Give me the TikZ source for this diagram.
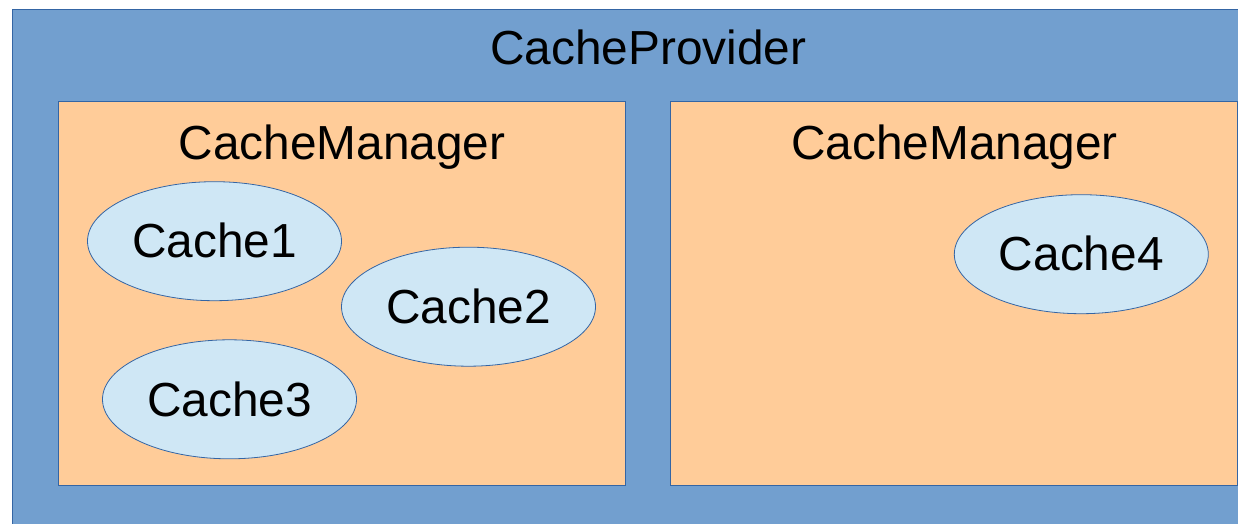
\documentclass[tikz,border=0pt]{standalone}
\usepackage{fontspec}
\setmainfont{Liberation Sans}
\usetikzlibrary{shapes.geometric,calc}
\definecolor{provblue}{HTML}{729FCF}
\definecolor{edgeblue}{HTML}{3465A4}
\definecolor{mgrorange}{HTML}{FFCC99}
\definecolor{cachefill}{HTML}{CFE7F5}
\tikzset{
  label text/.style={font=\fontsize{47.8}{57}\selectfont, text=black, inner sep=0pt, anchor=base},
  provider/.style={fill=provblue, draw=edgeblue, line width=1pt},
  manager/.style={fill=mgrorange, draw=edgeblue, line width=1pt},
  cache/.style={ellipse, fill=cachefill, draw=edgeblue, line width=0.8pt,
                minimum width=254pt, minimum height=119pt, inner sep=0pt},
}
\begin{document}
\begin{tikzpicture}[x=1pt, y=-1pt]
  \useasboundingbox (0,0) rectangle (1238,524);
  % provider frame (runs past the right and bottom edges)
  \draw[provider] (12.5,10) rectangle (1260,540);
  \node[label text] (provider) at (648.3,65) {CacheProvider};
  % the two managers
  \draw[manager] (58,102) rectangle (625.5,485.5);
  \draw[manager] (670,102) rectangle (1237.5,485.5);
  \node[label text] (mgrA) at (342,159) {CacheManager};
  \node[label text] (mgrB) at (954.5,159) {CacheManager};
  % caches
  \node[cache] (c1) at (214.5,241.2) {};
  \node[cache] (c2) at (468.5,306.7) {};
  \node[cache] (c3) at (229.5,399.3) {};
  \node[cache] (c4) at (1081.3,254.2) {};
  \node[label text] at ($(c1.center)+(0,16.7)$) {Cache1};
  \node[label text] at ($(c2.center)+(0,16.7)$) {Cache2};
  \node[label text] at ($(c3.center)+(0,16.7)$) {Cache3};
  \node[label text] at ($(c4.center)+(0,16.7)$) {Cache4};
\end{tikzpicture}
\end{document}
